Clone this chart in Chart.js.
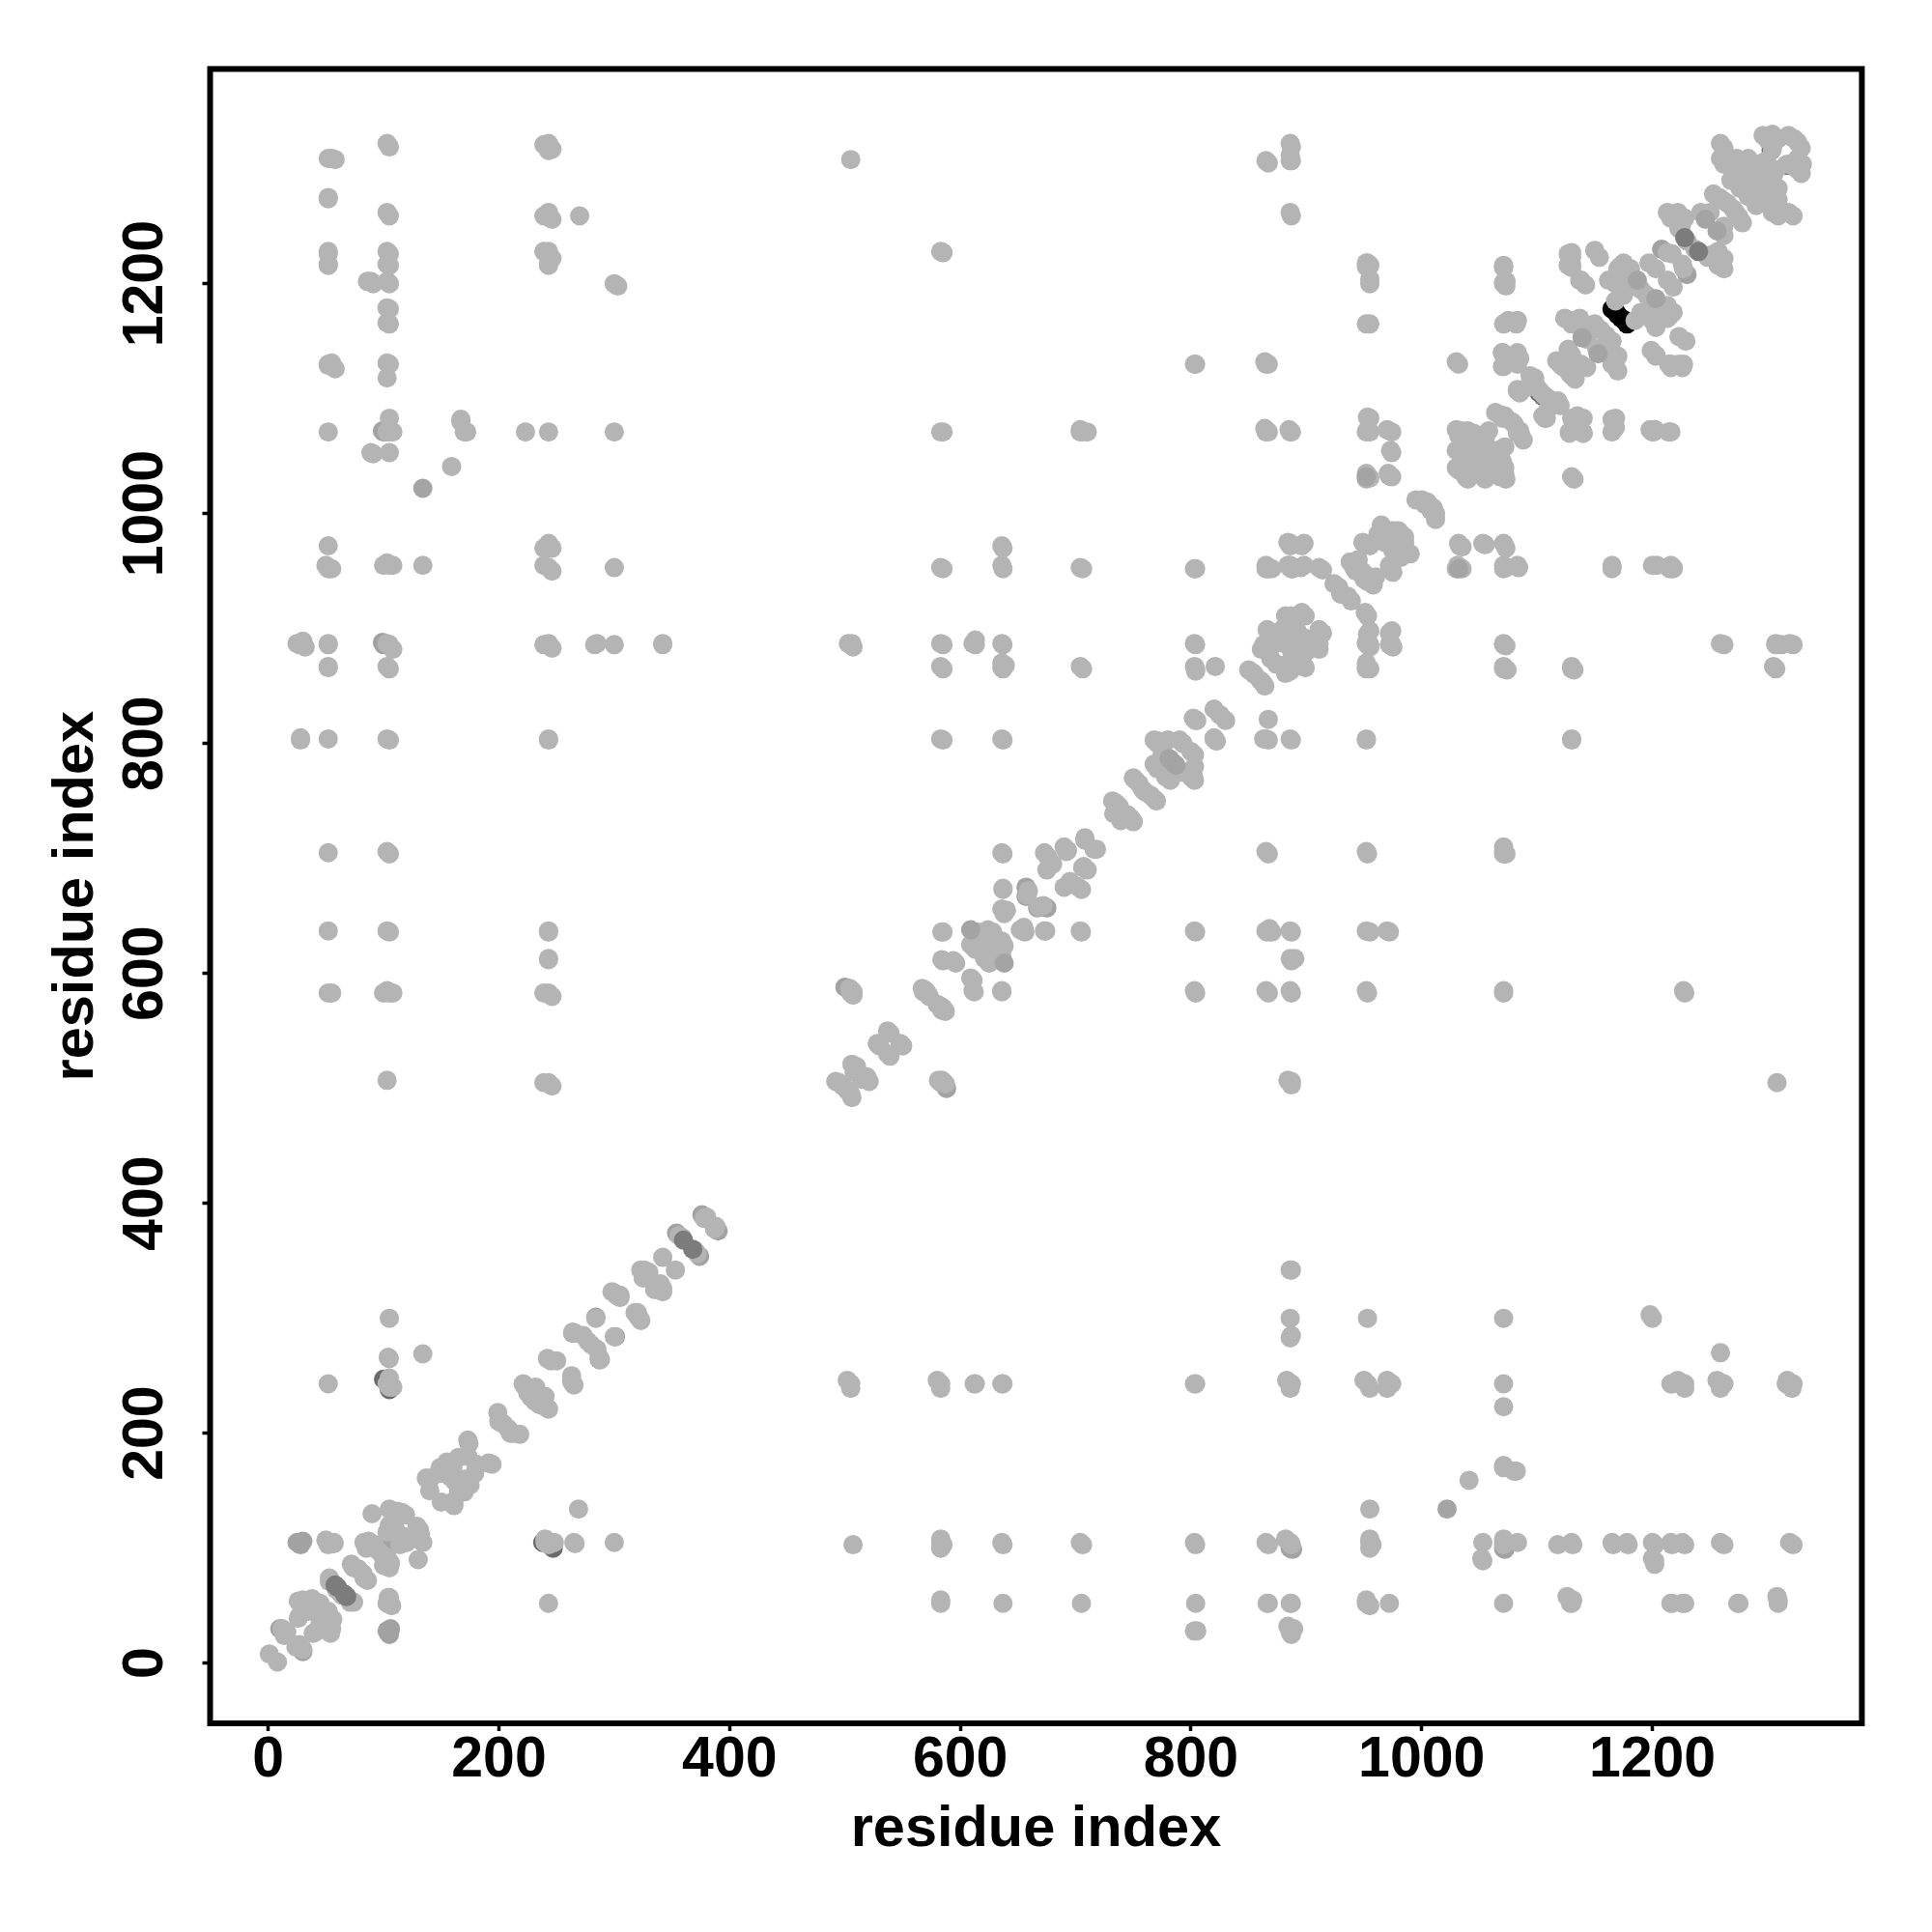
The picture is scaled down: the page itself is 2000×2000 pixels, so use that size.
<!DOCTYPE html>
<html>
<head>
<meta charset="utf-8">
<title>residue contact map</title>
<script src="https://cdn.jsdelivr.net/npm/chart.js@4/dist/chart.umd.min.js"></script>
<style>
  html, body { margin: 0; padding: 0; background: #fff; }
  canvas { display: block; }
</style>
</head>
<body>
<canvas id="contactMap" width="2000" height="2000"></canvas>
<script>
// Axis ticks
const tickValues = [0, 200, 400, 600, 800, 1000, 1200];
const axisLabel = 'residue index';

// Contacts: [residue, [partner residues]], the map is symmetric
const lightContacts = [
  [1, [8]], [12, [30]], [13, [28]], [14, [24]], [16, [27]],
  [25, [887]], [27, [886]], [28, [803, 805, 887]], [30, [889]], [32, [884]],
  [26, [54, 39]], [27, [41]], [30, [55]], [35, [45]], [38, [56]], [45, [52]], [33, [50]], [40, [48]],
  [52, [243, 583, 637, 705, 804, 867, 887, 952, 972, 1071, 1129, 1217, 1228, 1275, 1309, 886, 866, 103, 1226, 1216, 1130, 1274]],
  [55, [583, 952, 1131, 1309, 104]], [58, [1126, 1308]], [50, [955, 107]], [57, [105, 104]],
  [53, [71, 74]], [64, [59]], [72, [86]], [74, [83]], [78, [82]],
  [83, [105]], [88, [105]], [92, [103]], [95, [98]], [87, [106]], [85, [100]], [90, [130]],
  [107, [132]], [112, [132]], [119, [129]], [116, [131]], [105, [134, 120]], [103, [114]], [104, [115]], [110, [125, 118]],
  [103, [243, 507, 585, 637, 706, 804, 867, 887, 957, 1071, 1118, 1131, 1166, 1179, 1202, 1217, 1228, 1262, 1322]],
  [105, [1319, 1259, 1226, 1216, 1200, 1178, 1165, 1130, 1083, 1071, 1053, 955, 886, 865, 803, 704, 636, 583, 300, 265, 243, 248, 240]],
  [100, [955, 583]], [108, [1071, 882, 955, 583, 240]],
  [89, [1053, 1202]], [86, [1202]], [91, [1200, 1052]],
  [134, [955, 269]], [104, [266]], [159, [1041]], [167, [1080]], [172, [1071]], [170, [1071]], [167, [1082]], [223, [1071]],
  [137, [161]], [140, [150]], [141, [161]], [149, [170]], [158, [168, 162]], [160, [170]], [173, [194, 180]], [174, [191]], [165, [179]], [150, [165]], [155, [175]],
  [199, [218]], [200, [210, 212]], [204, [208]],
  [221, [243]], [223, [240]], [225, [235]], [232, [240]], [222, [242]], [228, [231]],
  [242, [265]], [245, [263]], [250, [263]],
  [264, [288]], [266, [287]], [273, [285]], [277, [280]],
  [284, [300]], [298, [323]], [300, [322]], [305, [320]], [318, [305]], [320, [302]],
  [323, [342]], [326, [342]], [342, [353]], [330, [340]], [325, [335]],
  [356, [372]], [359, [370]], [378, [387]], [380, [388]],
  [243, [1316, 1259, 1226, 1216, 1071, 971, 953, 886, 803, 636, 612, 583, 505, 613, 637, 804, 887, 974, 1217, 1228, 1262, 1322]],
  [239, [1321, 1259, 1228, 970, 955, 886, 583, 505]], [246, [1317, 1256, 1222, 970, 950, 883, 580, 502]],
  [270, [1259]], [283, [886]], [300, [886, 1200, 1071, 953]], [303, [1198]], [342, [886, 887]], [285, [887]],
  [492, [506]], [495, [505]], [498, [502]], [506, [521]], [510, [519]], [508, [514]],
  [505, [886, 1308, 583]], [507, [884, 581]], [503, [887]], [506, [585, 887]],
  [528, [539]], [537, [550]], [539, [548]], [530, [537]],
  [504, [587]], [507, [584]], [567, [587]], [572, [582]], [570, [585]], [573, [580]], [568, [584]],
  [596, [609]], [585, [611, 636, 1227, 1071, 952, 886, 865, 803]], [584, [612, 636]], [594, [611]],
  [583, [804, 867, 887, 953, 1071, 1228]], [611, [887, 636]], [613, [886, 890, 621]],
  [609, [625]], [615, [636]], [624, [638]], [628, [636]], [617, [625]], [625, [630]],
  [636, [656, 804, 866, 870, 887, 955, 972, 705]], [640, [655]], [638, [652]], [658, [668]], [659, [672]],
  [637, [970, 952, 886, 865, 803, 704, 674, 673]], [639, [868]],
  [673, [705]], [675, [690]], [676, [701]], [680, [695]], [690, [710]], [693, [707]], [692, [706]], [708, [718]], [708, [716]],
  [704, [867, 953, 1071, 1073]], [706, [1071, 952, 865]], [710, [1071]],
  [732, [750]], [733, [739]], [735, [748]], [738, [745]], [740, [735]],
  [750, [770]], [752, [768]], [755, [765]], [758, [760]],
  [768, [803, 782]], [772, [802]], [780, [803]], [790, [803]], [793, [800]], [771, [800, 778]], [775, [790, 795, 785]],
  [802, [822]], [804, [820]], [805, [820]], [820, [830]], [825, [825]],
  [803, [867, 887, 952, 1130]], [804, [1130, 952, 886, 865, 863]], [821, [867]],
  [850, [864]], [853, [862]], [860, [855]],
  [882, [911, 894]], [896, [914]], [899, [911]], [887, [911]], [869, [897, 874]], [867, [884]], [866, [899]], [863, [886]],
  [886, [899]], [881, [887]], [861, [882]], [870, [885]], [875, [890]], [880, [900, 895]], [890, [905]], [885, [890]], [892, [898]], [878, [888]],
  [865, [955, 952, 1071, 1130]], [886, [955, 953, 972, 974, 1071, 1262, 1307, 1322, 1312]], [865, [1307]], [898, [955, 974]], [914, [951]],
  [867, [1305, 1130, 1071, 952]], [887, [1319, 1307, 1259, 1071, 973, 952]], [864, [1074, 1132]], [885, [1073]],
  [884, [975, 955]], [888, [952]], [895, [953]], [911, [953]], [896, [972]], [870, [952]],
  [924, [939]], [928, [936]], [930, [930]],
  [938, [958]], [943, [955]], [948, [950]], [950, [943]], [945, [960]], [941, [953]],
  [949, [975]], [955, [972, 1216, 1204, 1165, 1071, 1083, 1031, 1200]], [965, [990]], [968, [985, 975]], [972, [980]], [978, [985]], [975, [985]], [980, [985]], [974, [985]], [962, [982]],
  [953, [1218, 1073, 1033, 1084]], [974, [1071, 1053, 1032]], [970, [1073]], [973, [1055]],
  [971, [1035]], [952, [1035, 1030, 1071, 1165, 1215, 1218]],
  [995, [1012]], [1000, [1012]], [1005, [1010]], [1003, [1008]],
  [1030, [1073, 1055, 1040, 1132]], [1035, [1072, 1070]], [1040, [1072, 1050, 1060, 1045]], [1042, [1052]], [1048, [1058]], [1045, [1070, 1065]], [1032, [1038, 1068, 1130]],
  [1033, [1055]], [1036, [1050]], [1034, [1045]], [1052, [1062]], [1050, [1068]], [1055, [1065]], [1058, [1072]],
  [1064, [1088]], [1068, [1086]], [1072, [1085]], [1070, [1083]], [1078, [1080]],
  [1071, [1216, 1201, 1165, 1138, 1128, 1200, 1215]], [1073, [1202]], [1075, [1168]], [1083, [1168, 1140]], [1070, [1140]], [1072, [1130]], [1085, [1135]],
  [1083, [1108]], [1085, [1105]], [1094, [1120]], [1092, [1110]], [1098, [1118]], [1100, [1110]], [1103, [1106]],
  [1117, [1133]], [1120, [1130]], [1127, [1143]], [1122, [1128]], [1130, [1138, 1083, 1227, 1216, 1167, 1214, 1223]],
  [1133, [1075]], [1128, [1070]], [1140, [1070]], [1165, [1082]], [1166, [1073]], [1198, [1073]], [1214, [1071]],
  [1127, [1226, 1216]], [1150, [1229]], [1137, [1203, 1170]], [1138, [1203]], [1154, [1223]], [1142, [1199]],
  [1124, [1170]], [1128, [1168]], [1130, [1165]], [1143, [1152, 1164]], [1150, [1165]], [1155, [1160]],
  [1162, [1203]], [1175, [1218, 1200, 1190]], [1172, [1215]], [1185, [1198]], [1190, [1195]], [1168, [1200, 1185]], [1170, [1213, 1200]], [1181, [1213]],
  [1197, [1218]], [1203, [1213]], [1213, [1227]], [1217, [1226]], [1230, [1237]], [1228, [1257]], [1216, [1257]], [1225, [1250]],
  [1213, [1262]], [1222, [1262]], [1223, [1248]], [1242, [1262]], [1250, [1262]], [1253, [1278]], [1258, [1275]], [1262, [1272]], [1265, [1270]],
  [1259, [1322, 1309]], [1262, [1304, 1318]],
  [1273, [1309, 1288]], [1283, [1309]], [1276, [1283, 1303]], [1278, [1300]], [1280, [1296]], [1285, [1290, 1305]], [1275, [1305, 1295]],
  [1290, [1300]], [1295, [1305]], [1270, [1300]], [1268, [1290]], [1299, [1307]], [1304, [1320]], [1304, [1317]],
  [1296, [1329]], [1304, [1330]], [1318, [1329]], [1323, [1326]], [1309, [1326]], [1305, [1322]], [1300, [1325]]
];

// A bit darker, drawn under the light points
const midContacts = [
  [10, [30]], [25, [105]], [28, [103]], [30, [106]], [28, [105]], [100, [1071, 886, 104]], [99, [888, 1072]],
  [376, [390]], [387, [378]], [354, [374]], [264, [287]], [284, [301]],
  [500, [588]], [503, [587]], [657, [675, 667]], [972, [1033]],
  [1073, [1202]], [1180, [1205]], [1208, [1230]],
  [1003, [1008]], [1107, [1083]], [1143, [1152]]
];

// Same sort of shade, but left on top of the light points
const midTopContacts = [
  [134, [1022]], [609, [638]], [781, [787]], [782, [786]], [952, [1032]],
  [1139, [1153]], [1187, [1203]], [1246, [1256]]
];

// Dark crescents peeking out under the light points
const shadowContacts = [
  [100, [247]], [238, [105]], [1102, [1105]], [1303, [1319]], [1303, [1316]], [1298, [1306]]
];

// Dark patches that stay visible on top
const darkContacts = [
  [58, [68]], [60, [66]], [360, [368]], [1228, [1240]]
];

// Near-black spot where contacts pile up
const blackContacts = [
  [1165, [1178]], [1168, [1176]], [1170, [1173]], [1167, [1177]]
];

// Expand [residue, [partners]] to both sides of the diagonal
function toPoints(contacts) {
    const points = [];
    contacts.forEach(function(contact) {
        contact[1].forEach(function(partner) {
            points.push({ x: contact[0], y: partner });
            points.push({ x: partner, y: contact[0] });
        });
    });
    return points;
}

function contactDataset(contacts, color, drawOrder) {
    return {
        data: toPoints(contacts),
        backgroundColor: color,
        borderWidth: 0,
        pointRadius: 10,
        pointHoverRadius: 10,
        order: drawOrder
    };
}

// The R style box round the plot area
const plotBox = {
    id: 'plotBox',
    afterDraw: function(chart) {
        const area = chart.chartArea;
        const ctx = chart.ctx;
        ctx.save();
        ctx.strokeStyle = '#000';
        ctx.lineWidth = 6;
        ctx.lineJoin = 'miter';
        ctx.strokeRect(area.left, area.top, area.right - area.left, area.bottom - area.top);
        ctx.restore();
    }
};

const tickFont = { family: '"Liberation Sans"', size: 59, weight: 'bold' };
const titleFont = { family: '"Liberation Sans"', size: 59.5, weight: 'bold' };

function baseAxis(min, max) {
    return {
        type: 'linear',
        min: min,
        max: max,
        border: { display: false },
        grid: {
            drawOnChartArea: false,
            drawTicks: true,
            tickLength: 8,
            tickWidth: 3.5,
            tickColor: '#000'
        }
    };
}

function plainTick(value) {
    return String(value);
}

const xAxis = baseAxis(-50.4, 1381.6);
xAxis.afterBuildTicks = function(scale) { scale.ticks = tickValues.map(v => ({ value: v })); };
xAxis.afterFit = function(scale) { scale.height = 216; };
xAxis.ticks = { color: '#000', font: tickFont, padding: -5, maxRotation: 0, minRotation: 0, autoSkip: false, callback: plainTick };
xAxis.title = { display: true, text: axisLabel, color: '#000', font: titleFont, padding: { top: 0, bottom: 70 } };

const yAxis = baseAxis(-52.4, 1386.8);
yAxis.afterBuildTicks = function(scale) { scale.ticks = tickValues.map(v => ({ value: v })); };
yAxis.afterFit = function(scale) { scale.width = 217.5; };
yAxis.ticks = { color: '#000', font: tickFont, padding: -8, minRotation: 90, maxRotation: 90, crossAlign: 'center', autoSkip: false, callback: plainTick };
yAxis.title = { display: true, text: axisLabel, color: '#000', font: titleFont, padding: { top: 44, bottom: 44 } };

new Chart(document.getElementById('contactMap'), {
    type: 'scatter',
    data: {
        datasets: [
            contactDataset(blackContacts, '#000000', 6),
            contactDataset(shadowContacts, '#6a6a6a', 5),
            contactDataset(midContacts, '#a2a2a2', 4),
            contactDataset(lightContacts, '#b4b4b4', 3),
            contactDataset(midTopContacts, '#a4a4a4', 2),
            contactDataset(darkContacts, '#7c7c7c', 1)
        ]
    },
    options: {
        responsive: false,
        animation: false,
        layout: { padding: { left: 0, right: 72.6, top: 71.4, bottom: 0 } },
        plugins: { legend: { display: false }, tooltip: { enabled: false } },
        scales: { x: xAxis, y: yAxis }
    },
    plugins: [plotBox]
});
</script>
</body>
</html>
